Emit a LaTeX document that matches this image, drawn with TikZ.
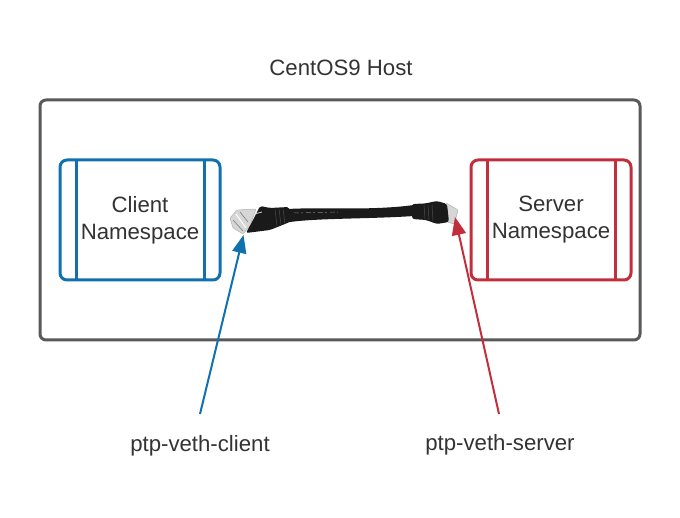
\documentclass[tikz,border=0pt]{standalone}
\usepackage{fontspec}
\setmainfont{Liberation Sans}
\usetikzlibrary{arrows.meta}
\definecolor{hostgray}{HTML}{595959}
\definecolor{cblue}{HTML}{1071AE}
\definecolor{cred}{HTML}{C22F3C}
\definecolor{txt}{HTML}{333333}
\definecolor{metal}{HTML}{D6D6D6}
\definecolor{cablek}{HTML}{1A1A1A}
\tikzset{
  lbl/.style={font=\fontsize{22.2}{27}\selectfont, text=txt, align=center, inner sep=0pt},
  hostbox/.style={draw=hostgray, line width=3pt, rounded corners=6pt, minimum width=600pt, minimum height=240pt, inner sep=0pt, outer sep=0pt},
  nsbox/.style={line width=3pt, rounded corners=7pt, minimum width=160pt, minimum height=120pt, outer sep=0pt, lbl},
  pointer/.style={line width=2pt, -{Triangle[length=18pt,width=14pt]}},
  bar/.style={line width=3pt}
}
\begin{document}
\begin{tikzpicture}[x=1pt,y=-1pt]
\useasboundingbox (0,0) rectangle (680,518);
\fill[white] (0,0) rectangle (680,518);
\node[lbl] (title) at (341,68) {CentOS9 Host};
\node[hostbox] (host) at (340,220) {};
\node[nsbox, draw=cblue] (client) at (140,220) {Client\\Namespace};
\node[nsbox, draw=cred] (server) at (551,220) {Server\\Namespace};
\draw[bar, cblue] ([xshift=16pt]client.north west) -- ([xshift=16pt]client.south west);
\draw[bar, cblue] ([xshift=-16pt]client.north east) -- ([xshift=-16pt]client.south east);
\draw[bar, cred] ([xshift=16pt]server.north west) -- ([xshift=16pt]server.south west);
\draw[bar, cred] ([xshift=-16pt]server.north east) -- ([xshift=-16pt]server.south east);
% cable
\fill[cablek] (288,209) .. controls (320,207) and (370,211) .. (414,205)
  -- (414,216) .. controls (370,219) and (320,218) .. (290,222) -- cycle;
\draw[gray, line width=0.5pt, dash pattern=on 5pt off 2pt on 2pt off 3pt] (294,213) -- (338,212);
% left plug
\fill[metal, draw=gray!60, line width=0.5pt, rounded corners=1pt] (230,218) -- (237,210) -- (256,209) -- (250,226) -- (243,234) -- (233,228) -- cycle;
\draw[white, line width=1pt] (236,214) -- (246,228);
\draw[gray, line width=0.6pt] (233,220) -- (243,231) (240,212) -- (248,222);
\fill[cablek, rounded corners=2pt] (260,206) -- (270,208) -- (289,207) -- (292,221) -- (285,224) -- (270,230) -- (246,233) -- (252,222) -- (256,214) -- cycle;
\draw[gray!60!black, line width=0.5pt] (275,209) -- (277,226) (279,209) -- (281,225) (283,209) -- (285,224);
\draw[white!70!gray, line width=0.8pt] (247,216) -- (262,212);
% right plug
\fill[metal, draw=gray!60, line width=0.5pt, rounded corners=1pt] (446,203) -- (458,210) -- (456,218) -- (454,224) -- (447,222) -- cycle;
\fill[cablek, rounded corners=2.5pt] (412,204) -- (425,203.5) -- (437,201) -- (447,204) -- (449,222) -- (437,224) -- (426,220) -- (412,219) -- cycle;
\draw[gray!60!black, line width=0.5pt] (424,205) -- (425,219) (428,205) -- (429,220) (432,205) -- (433,221);
% pointers
\node[lbl] (clientlabel) at (200,445.5) {ptp-veth-client};
\node[lbl] (serverlabel) at (500,444.5) {ptp-veth-server};
\coordinate (clientstart) at (200,414);
\coordinate (serverstart) at (499,414);
\coordinate (clienttip) at (243.5,235);
\coordinate (servertip) at (455,217);
\draw[pointer, cblue] (clientstart) -- (clienttip);
\draw[pointer, cred] (serverstart) -- (servertip);
\end{tikzpicture}
\end{document}
